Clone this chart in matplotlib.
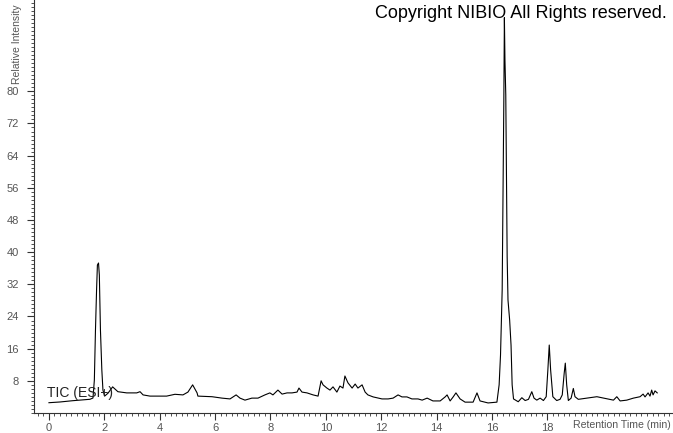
import matplotlib
matplotlib.use('Agg')
from matplotlib import pyplot as plt
from matplotlib.ticker import MultipleLocator

plt.rcParams['font.family'] = ['Liberation Sans', 'DejaVu Sans']

# TIC (ESI+) trace
rt_min = [0.00, 0.40, 0.86, 1.48, 1.59, 1.64, 1.68, 1.72, 1.75, 1.79, 1.82, 1.86, 1.91, 1.95,
          2.01, 2.13, 2.30, 2.49, 2.81, 3.17, 3.29, 3.40, 3.65, 4.25, 4.55, 4.84, 5.02, 5.19,
          5.35, 5.38, 5.89, 6.25, 6.54, 6.76, 6.90, 7.08, 7.33, 7.55, 7.80, 7.98, 8.09, 8.27,
          8.42, 8.60, 8.78, 8.96, 9.03, 9.14, 9.32, 9.54, 9.72, 9.83, 9.90, 10.04, 10.15,
          10.26, 10.40, 10.51, 10.62, 10.69, 10.80, 10.95, 11.06, 11.16, 11.31, 11.42, 11.52,
          11.71, 12.03, 12.25, 12.43, 12.61, 12.75, 12.93, 13.11, 13.33, 13.48, 13.66, 13.87,
          14.13, 14.31, 14.38, 14.49, 14.60, 14.70, 14.85, 15.03, 15.32, 15.46, 15.57, 15.86,
          16.18, 16.26, 16.31, 16.37, 16.40, 16.43, 16.45, 16.47, 16.50, 16.53, 16.55, 16.58,
          16.64, 16.69, 16.73, 16.78, 16.95, 17.08, 17.20, 17.32, 17.44, 17.52, 17.62, 17.74,
          17.86, 17.96, 18.02, 18.07, 18.12, 18.20, 18.34, 18.46, 18.54, 18.61, 18.65, 18.70,
          18.76, 18.86, 18.94, 19.00, 19.12, 19.43, 19.79, 20.03, 20.39, 20.51, 20.63, 20.87,
          21.11, 21.35, 21.46, 21.53, 21.64, 21.71, 21.77, 21.82, 21.89, 21.97]
intensity = [2.56, 2.74, 3.06, 3.41, 3.73, 8.2, 20.6, 30.6, 36.8, 37.3, 34.3, 20.6, 10.7, 5.7,
             4.2, 4.9, 6.5, 5.3, 5.0, 5.0, 5.3, 4.5, 4.2, 4.2, 4.65, 4.5, 5.2, 7.0,
             5.0, 4.2, 4.05, 3.7, 3.5, 4.5, 3.7, 3.2, 3.7, 3.7, 4.5, 5.0, 4.5, 5.7,
             4.7, 5.0, 5.0, 5.2, 6.2, 5.2, 5.0, 4.5, 4.2, 8.0, 7.0, 6.2, 5.7,
             6.5, 5.2, 6.7, 6.2, 9.2, 7.5, 6.2, 7.2, 6.2, 7.0, 5.2, 4.5,
             4.0, 3.5, 3.5, 3.7, 4.5, 4.0, 4.0, 3.5, 3.5, 3.2, 3.7, 3.0,
             3.0, 4.0, 4.5, 3.0, 4.0, 5.0, 3.5, 2.7, 2.7, 5.0, 3.0, 2.5,
             2.7, 7.0, 14.4, 30.6, 53.0, 77.9, 98.3, 87.8, 79.1, 55.5, 38.8, 28.1,
             23.1, 16.9, 7.0, 3.5, 2.8, 3.8, 3.1, 3.4, 5.3, 3.7, 3.2, 3.7,
             3.1, 4.05, 10.7, 16.9, 10.7, 4.05, 3.1, 3.4, 4.5, 9.9, 12.4, 7.0,
             3.1, 3.7, 6.1, 4.05, 3.4, 3.7, 4.05, 3.7, 3.2, 4.05, 3.0, 3.2,
             3.7, 4.05, 4.7, 4.0, 5.0, 4.2, 5.7, 4.5, 5.5, 5.0]

y_ticks = [8, 16, 24, 32, 40, 48, 56, 64, 72, 80]
x_ticks = [0, 2, 4, 6, 8, 10, 12, 14, 16, 18]

fig = plt.figure(figsize=(6.73, 4.33), dpi=100)
ax = fig.add_axes([34 / 673, 20 / 433, 1 - 34 / 673, 413 / 433])

ax.plot(rt_min, intensity, color='black', linewidth=0.8)

ax.set_xlim(-0.54, 22.54)
ax.set_ylim(0, 102.7)
ax.set_xticks(x_ticks)
ax.set_yticks(y_ticks)
ax.xaxis.set_minor_locator(MultipleLocator(0.2))
ax.yaxis.set_minor_locator(MultipleLocator(1))
ax.tick_params(axis='both', which='major', direction='out', length=5, width=0.8,
               colors='#333333', labelcolor='#555555', labelsize=8)
ax.tick_params(axis='both', which='minor', direction='out', length=2.5, width=0.6,
               colors='#333333')
ax.tick_params(axis='x', pad=2)
ax.tick_params(axis='y', pad=6)

for side in ['top', 'right']:
    ax.spines[side].set_visible(False)
for side in ['left', 'bottom']:
    ax.spines[side].set_color('#333333')
    ax.spines[side].set_linewidth(0.8)

fig.text(17 / 673, (433 - 84) / 433, 'Relative Intensity', rotation=90,
         ha='center', va='bottom', fontsize=7.5, color='#555555')
fig.text(671 / 673, (433 - 425) / 433, 'Retention Time (min)',
         ha='right', va='center', fontsize=7.6, color='#555555')
fig.text(667 / 673, (433 - 14) / 433, 'Copyright NIBIO All Rights reserved.',
         ha='right', va='center', fontsize=13, color='black')
fig.text(47 / 673, (433 - 393) / 433, 'TIC (ESI+)',
         ha='left', va='center', fontsize=10, color='#222222')

fig.savefig('out.png', dpi=100)
